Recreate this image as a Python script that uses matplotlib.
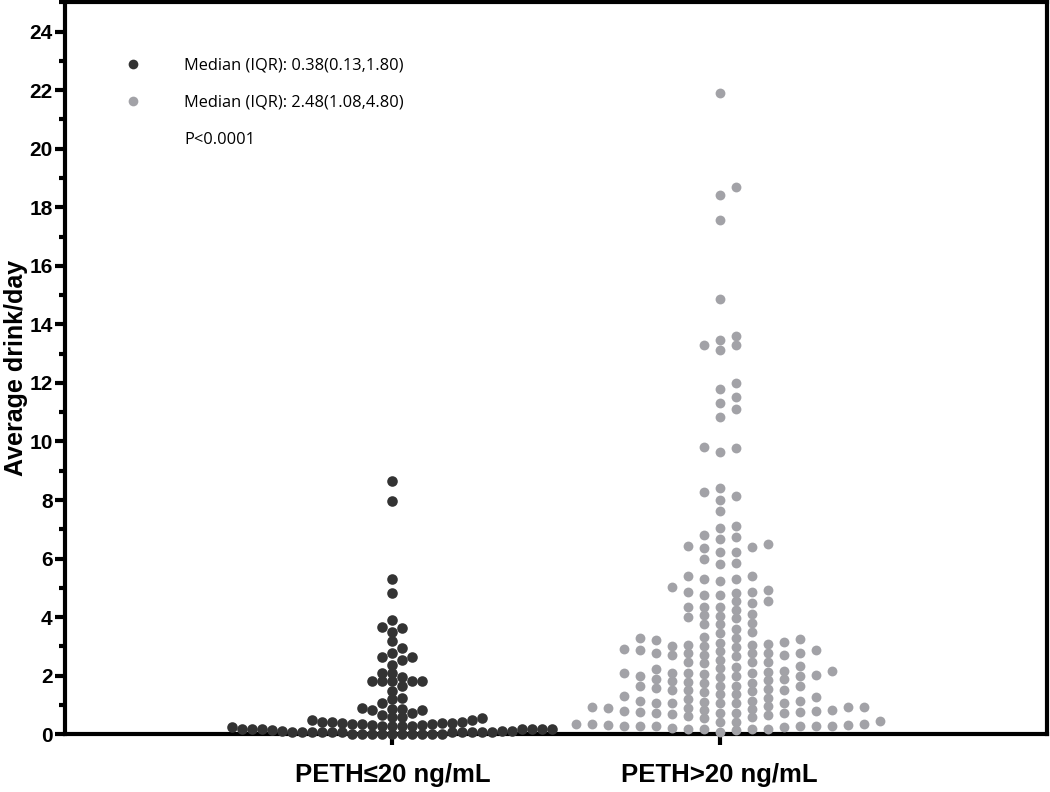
import numpy as np
import matplotlib
matplotlib.use("Agg")
import matplotlib.pyplot as plt
from matplotlib.lines import Line2D
from matplotlib.ticker import MultipleLocator

# average drinks per day
low_peth = [0.37, 0.06, 0.19, 0.19, 0.19, 0.28, 0.0, 0.19, 0.34, 0.02,
            0.06, 0.65, 0.28, 0.0, 0.57, 0.11, 0.42, 0.11, 0.0, 0.31, 0.0,
            1.96, 0.85, 0.06, 1.64, 1.05, 0.42, 0.11,
            3.64, 2.55, 2.10, 1.81, 1.19, 0.82, 0.50, 0.19,
            8.66, 7.98, 5.29, 4.83, 3.90, 3.48, 2.93, 2.64, 2.38, 2.10, 1.81,
            0.85, 0.31, 0.02,
            3.67, 3.18, 2.62, 1.81, 1.47, 0.74, 0.42, 0.08,
            2.79, 1.81, 1.22, 0.82, 0.23, 1.81, 0.91, 0.37, 0.08,
            0.54, 0.19, 0.57, 0.02, 0.37, 0.08, 0.08, 0.08, 0.50, 0.16,
            0.28, 0.0, 0.28, 0.0, 0.19, 0.08, 0.34, 0.06, 0.34, 0.06, 0.0]

high_peth = [0.95, 0.20, 0.35, 2.15, 0.90, 0.27,
             2.87, 1.98, 1.58, 1.30, 0.73, 0.30,
             3.02, 2.72, 2.30, 1.98, 1.66, 1.13, 0.82, 0.42, 0.08,
             3.24, 2.76, 2.32, 1.98, 1.50, 1.24, 1.07, 0.93, 0.67, 0.30,
             6.49, 4.87, 4.56, 4.01, 3.14, 2.84, 2.10, 1.75, 1.45, 1.14, 0.85, 0.19,
             6.67, 6.37, 5.24, 4.92, 4.35, 3.81, 3.21, 2.76, 2.47, 2.15, 1.87,
             1.20, 0.68, 0.25,
             13.30, 11.79, 11.11, 9.80, 8.26, 7.12, 6.75, 6.42, 5.86, 5.40,
             4.83, 4.35, 4.07, 3.75, 3.46, 3.12, 2.87, 2.53, 2.10, 1.78, 1.47,
             1.13, 0.71, 0.45, 0.19,
             21.90, 18.42, 17.56, 14.85, 13.45, 13.13, 11.30, 10.85, 9.63, 8.00,
             7.64, 6.80, 6.23, 5.80, 5.40, 4.75, 4.49, 4.12, 3.76, 3.50, 3.04,
             2.76, 2.47, 2.13, 1.85, 1.56, 0.71, 0.27,
             18.68, 13.60, 13.30, 11.99, 11.53, 9.79, 8.40, 8.14, 7.03, 6.40,
             5.98, 5.29, 4.75, 4.35, 4.04, 3.61, 3.33, 3.04, 2.76, 2.25, 1.90,
             1.50, 1.05, 0.79, 0.27,
             6.23, 5.29, 5.02, 4.55, 4.25, 3.27, 2.72, 2.22, 1.96, 1.64, 1.36,
             1.07, 0.79, 0.19,
             4.87, 3.96, 3.27, 2.98, 2.70, 2.42, 2.10, 1.75, 1.28, 0.82, 0.54, 0.19,
             3.07, 2.76, 2.45, 2.10, 1.65, 0.88, 0.57, 0.28,
             3.02, 2.67, 1.81, 1.50, 1.07, 0.76, 0.28,
             2.90, 2.02, 1.65, 1.36, 1.07, 0.76, 0.34,
             2.05, 1.10, 0.74, 0.42, 0.14,
             0.93, 0.27, 0.93, 0.62, 0.34]

groups = ["PETH\u226420 ng/mL", "PETH>20 ng/mL"]
legend_labels = ["Median (IQR): 0.38(0.13,1.80)",
                 "Median (IQR): 2.48(1.08,4.80)",
                 "P<0.0001"]

dark = "#333333"
grey = "#a2a2a7"

fig = plt.figure(figsize=(10.5, 7.92), dpi=100)
ax = fig.add_axes([0.062, 0.073, 0.935, 0.924])
ax.set_xlim(0, 3)
ax.set_ylim(0, 25)

# pixels per data unit
px_x = fig.get_figwidth() * fig.dpi * 0.935 / 3
px_y = fig.get_figheight() * fig.dpi * 0.924 / 25


def swarm(vals, step_px, gap_px):
    # simple column swarm: lowest values first, nearest free column
    vals = np.asarray(vals)
    offs = np.zeros(len(vals))
    cols = {}
    for i in np.argsort(vals, kind="stable"):
        y = vals[i] * px_y
        k = 0
        n = 0
        while True:
            taken = cols.get(k, [])
            if all(abs(y - t) >= gap_px for t in taken):
                break
            n += 1
            k = (n + 1) // 2 if n % 2 else -(n // 2)
        cols.setdefault(k, []).append(y)
        offs[i] = k * step_px / px_x
    return offs


x1 = 1 + swarm(low_peth, 10, 7.8)
x2 = 2 + swarm(high_peth, 16, 8.0)

ax.scatter(x1, low_peth, s=58, color=dark, linewidths=0, zorder=5, clip_on=False)
ax.scatter(x2, high_peth, s=50, color=grey, linewidths=0, zorder=5, clip_on=False)

for sp in ax.spines.values():
    sp.set_linewidth(3)

ax.yaxis.set_major_locator(MultipleLocator(2))
ax.yaxis.set_minor_locator(MultipleLocator(1))
ax.set_xticks([1, 2])
ax.set_xticklabels(groups)
ax.tick_params(axis="y", which="major", length=7, width=3, pad=2)
ax.tick_params(axis="y", which="minor", length=4, width=3)
ax.tick_params(axis="x", length=8, width=3, pad=13)

tick_font = ["Liberation Sans Narrow", "Liberation Sans", "DejaVu Sans"]
for lab in ax.get_yticklabels():
    lab.set_fontfamily(tick_font)
    lab.set_fontweight("bold")
    lab.set_fontsize(15)
for lab in ax.get_xticklabels():
    lab.set_fontfamily(["Liberation Sans", "DejaVu Sans"])
    lab.set_fontweight("bold")
    lab.set_fontsize(18.5)

ax.set_ylabel("Average drink/day", fontsize=18, fontweight="bold",
              family=["Liberation Sans", "DejaVu Sans"], labelpad=1)

handles = [Line2D([], [], linestyle="none", marker="o", markersize=7,
                  color=dark, markeredgewidth=0),
           Line2D([], [], linestyle="none", marker="o", markersize=7,
                  color=grey, markeredgewidth=0),
           Line2D([], [], linestyle="none")]
ax.legend(handles, legend_labels, loc="upper left", bbox_to_anchor=(0.046, 0.945),
          frameon=False, handlelength=1.0, handletextpad=2.6, labelspacing=1.3,
          prop={"family": ["Open Sans", "DejaVu Sans"], "size": 11.8})

fig.savefig("out.png", dpi=100)
